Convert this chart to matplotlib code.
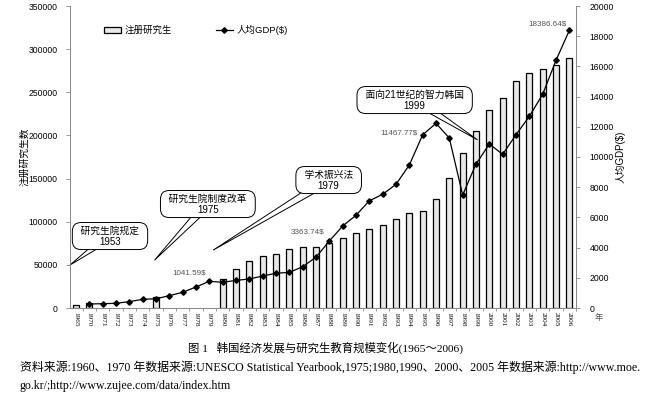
import numpy as np
import matplotlib
matplotlib.use("Agg")
import matplotlib.pyplot as plt
from matplotlib.lines import Line2D
from matplotlib.patches import Patch

plt.rcParams['font.family'] = ['Liberation Sans', 'Noto Sans CJK SC']

nan = np.nan
years = ['1965', '1970', '1971', '1972', '1973', '1974', '1975', '1976', '1977',
         '1978', '1979', '1980', '1981', '1982', '1983', '1984', '1985', '1986',
         '1987', '1988', '1989', '1990', '1991', '1992', '1993', '1994', '1995',
         '1996', '1997', '1998', '1999', '2000', '2001', '2002', '2003', '2004',
         '2005', '2006']
students = [3800, 6200, nan, nan, nan, nan, 13100, nan, nan, nan, nan,
            34000, 44900, 54100, 60300, 62600, 68400, 70300, 70700, 75000,
            81500, 86900, 91600, 96500, 103500, 109700, 112800, 126000,
            151000, 180000, 204800, 229500, 243800, 263000, 272700, 277000,
            281600, 290000]
gdp = [nan, 265, 285, 310, 420, 575, 615, 815, 1041.59, 1390, 1770, 1700,
       1830, 1920, 2120, 2300, 2360, 2735, 3363.74, 4435, 5430, 6140, 7100,
       7530, 8190, 9470, 11467.77, 12230, 11250, 7480, 9530, 10860, 10175,
       11475, 12690, 14150, 16400, 18386.64]
gdp_labels = {'1977': '1041.59$', '1987': '3363.74$', '1995': '11467.77$', '2006': '18386.64$'}
events = [('研究生院规定', '1953', 2.55, 83400, -0.45, 49800),
          ('研究生院制度改革', '1975', 9.89, 120500, 5.9, 55600),
          ('学术振兴法', '1979', 18.95, 148300, 10.3, 67200),
          ('面向21世纪的智力韩国', '1999', 25.4, 241000, 30.1, 195000)]

fig = plt.figure(figsize=(6.52, 3.96), dpi=100)
ax = fig.add_axes([70/652, 1-308/396, 506/652, 302/396])
ax2 = ax.twinx()

x = np.arange(len(years))
ax.bar(x, np.array(students, dtype=float), width=0.45, color='#e8e8e8',
       edgecolor='black', linewidth=0.9, zorder=2)
ax2.plot(x, np.array(gdp, dtype=float), color='black', lw=0.9, marker='D',
         markersize=2.8, zorder=3)

ax.set_xlim(-0.45, 37.45)
ax.set_ylim(0, 350000)
ax2.set_ylim(0, 20000)
ax.set_yticks(np.arange(0, 350001, 50000))
ax2.set_yticks(np.arange(0, 20001, 2000))
ax.set_xticks(x)
ax.set_xticklabels(years, rotation=-90, fontsize=5.2, family=['Liberation Serif'])
ax.set_xticks(x + 0.5, minor=True)
ax.tick_params(axis='x', which='major', length=0, pad=3)
ax.tick_params(axis='x', which='minor', length=2, color='#888888', width=0.6)
ax.tick_params(axis='y', length=3, color='#888888', width=0.6, labelsize=6.2, pad=6)
ax2.tick_params(axis='y', length=3, color='#888888', width=0.6, labelsize=6.2, pad=7)
for a in (ax, ax2):
    a.spines['top'].set_visible(False)
    for s in ('left', 'right', 'bottom'):
        a.spines[s].set_color('#888888')
        a.spines[s].set_linewidth(0.7)

ax.set_ylabel('注册研究生数', fontsize=7)
ax.yaxis.set_label_coords(-0.08, 0.5)
ax2.set_ylabel('人均GDP($)', fontsize=7, rotation=90)
ax2.yaxis.set_label_coords(1.077, 0.5)
ax.text(1.045, -0.02, '年', transform=ax.transAxes, fontsize=6, color='#555555',
        ha='center', va='top')

offsets = {'1977': (7, 19, 'center'), '1987': (-9, 25, 'center'),
           '1995': (-5, 2, 'right'), '2006': (-3, 6, 'right')}
for yr, lab in gdp_labels.items():
    i = years.index(yr)
    dx, dy, ha = offsets[yr]
    ax2.annotate(lab, (i, gdp[i]), xytext=(dx, dy), textcoords='offset pixels',
                 ha=ha, va='center', fontsize=5.8, color='#555555')

for name, yr, tx, ty, px, py in events:
    ax.annotate('  ' + name + '  \n' + yr, xy=(px, py), xytext=(tx, ty),
                ha='center', va='center', multialignment='center',
                fontsize=7, linespacing=1.15, zorder=6,
                bbox=dict(boxstyle='round,pad=0.3,rounding_size=0.9', fc='white',
                          ec='black', lw=0.7),
                arrowprops=dict(arrowstyle='wedge,tail_width=0.9', fc='white',
                                ec='black', lw=0.7, shrinkA=0, shrinkB=0,
                                patchA=None),
                annotation_clip=False)

handles = [Patch(facecolor='#e8e8e8', edgecolor='black', lw=0.9),
           Line2D([], [], color='black', lw=0.9, marker='D', markersize=2.8)]
ax.legend(handles, ['注册研究生', '人均GDP($)'], loc='center left',
          bbox_to_anchor=(0.05, 0.92), ncol=2, frameon=False, fontsize=6.8,
          columnspacing=4.6, handlelength=1.8, handletextpad=0.4)

serif_cjk = ['Liberation Serif', 'Noto Sans CJK SC']
fig.text(0.5, 1-348/396, '图 1   韩国经济发展与研究生教育规模变化(1965～2006)',
         ha='center', va='center', fontsize=8.2, family=serif_cjk)
fig.text(20/652, 1-367/396,
         '资料来源:1960、1970 年数据来源:UNESCO Statistical Yearbook,1975;1980,1990、2000、2005 年数据来源:http://www.moe.',
         ha='left', va='center', fontsize=8.6, family=serif_cjk)
fig.text(20/652, 1-386/396, 'go.kr/;http://www.zujee.com/data/index.htm',
         ha='left', va='center', fontsize=8.6, family=serif_cjk)

fig.savefig('out.png', dpi=100)
